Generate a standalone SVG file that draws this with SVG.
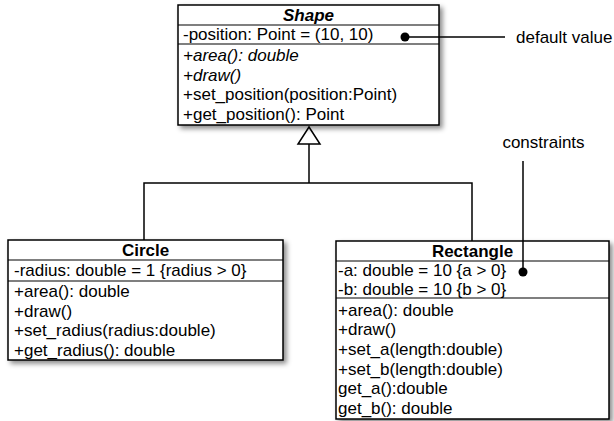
<svg xmlns="http://www.w3.org/2000/svg" width="614" height="421" viewBox="0 0 614 421">
  <defs>
    <filter id="shadow" x="-10%" y="-10%" width="125%" height="125%">
      <feDropShadow dx="3" dy="3" stdDeviation="2.5" flood-color="#000" flood-opacity="0.45"/>
    </filter>
    <style>
      .box { fill: #fff; stroke: #000; stroke-width: 1.5; }
      .div { stroke: #000; stroke-width: 1.2; }
      .t { font-family: "Liberation Sans", Arial, Helvetica, sans-serif; font-size: 17px; fill: #000; }
      .title { font-weight: bold; text-anchor: middle; }
      .it { font-style: italic; }
      .wire { fill: none; stroke: #000; stroke-width: 1.5; }
    </style>
  </defs>
  <rect width="614" height="421" fill="#fff"/>

  <!-- generalization connectors -->
  <g id="connectors">
    <polyline class="wire" points="144,240 144,183 472,183 472,241"/>
    <line class="wire" x1="309" y1="144" x2="309" y2="183"/>
    <polygon points="309,127 298,144 320,144" fill="#fff" stroke="#000" stroke-width="1.5"/>
  </g>

  <!-- abstract base class -->
  <g id="shape">
    <rect class="box" x="178" y="5" width="261" height="120" filter="url(#shadow)"/>
    <line class="div" x1="178" y1="25" x2="439" y2="25"/>
    <line class="div" x1="178" y1="44" x2="439" y2="44"/>
    <text class="t title it" x="308.5" y="20.5">Shape</text>
    <text class="t" x="183" y="40">-position: Point = (10, 10)</text>
    <text class="t it" x="183" y="61">+area(): double</text>
    <text class="t it" x="183" y="80.5">+draw()</text>
    <text class="t" x="183" y="100">+set_position(position:Point)</text>
    <text class="t" x="183" y="119.5">+get_position(): Point</text>
  </g>

  <g id="circle">
    <rect class="box" x="8" y="240" width="275" height="120" filter="url(#shadow)"/>
    <line class="div" x1="8" y1="260" x2="283" y2="260"/>
    <line class="div" x1="8" y1="281" x2="283" y2="281"/>
    <text class="t title" x="145.5" y="256">Circle</text>
    <text class="t" x="14" y="276">-radius: double = 1 {radius &gt; 0}</text>
    <text class="t" x="14" y="297">+area(): double</text>
    <text class="t" x="14" y="316.5">+draw()</text>
    <text class="t" x="14" y="336">+set_radius(radius:double)</text>
    <text class="t" x="14" y="355.5">+get_radius(): double</text>
  </g>

  <g id="rectangle">
    <rect class="box" x="336" y="241" width="273" height="178" filter="url(#shadow)"/>
    <line class="div" x1="336" y1="261" x2="609" y2="261"/>
    <line class="div" x1="336" y1="298" x2="609" y2="298"/>
    <text class="t title" x="472.5" y="257">Rectangle</text>
    <text class="t" x="338" y="276">-a: double = 10 {a &gt; 0}</text>
    <text class="t" x="338" y="295">-b: double = 10 {b &gt; 0}</text>
    <text class="t" x="338" y="315.5">+area(): double</text>
    <text class="t" x="338" y="335">+draw()</text>
    <text class="t" x="338" y="355">+set_a(length:double)</text>
    <text class="t" x="338" y="374.5">+set_b(length:double)</text>
    <text class="t" x="338" y="394">get_a():double</text>
    <text class="t" x="338" y="414">get_b(): double</text>
  </g>

  <!-- notes with their leaders, drawn over the class boxes -->
  <g id="note-default">
    <line class="wire" x1="405" y1="37" x2="505" y2="37"/>
    <circle cx="405" cy="37" r="4.5" fill="#000"/>
    <text class="t" x="516" y="43">default value</text>
  </g>
  <g id="note-constraints">
    <line class="wire" x1="523" y1="161" x2="523" y2="272"/>
    <circle cx="523" cy="272" r="4.5" fill="#000"/>
    <text class="t" x="543.5" y="148" text-anchor="middle">constraints</text>
  </g>
</svg>
